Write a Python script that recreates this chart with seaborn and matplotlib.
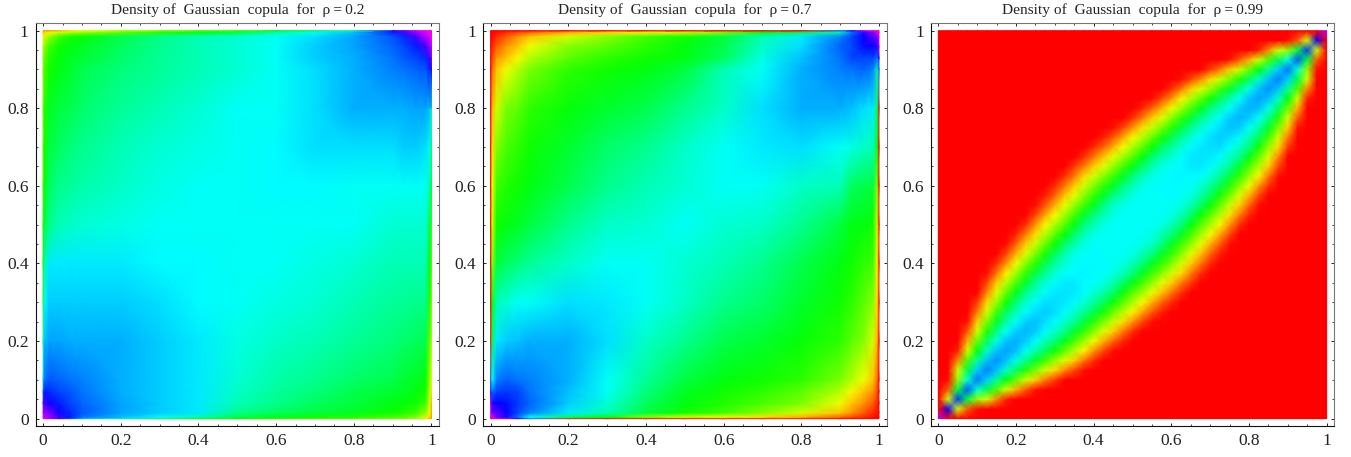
import numpy as np
import matplotlib
matplotlib.use("Agg")
import matplotlib.pyplot as plt
import seaborn as sns

# hue (0 red, .33 green, .5 cyan, .67 blue)
edge_coords = [0, .004, .015, .04, .07, .1, .2, .3, .4, .5, .6, .7, .8, .9, .93, .96, .985, .996, 1]
band_coords = [i / 40 for i in range(41)]

# one row per y, x going from 0 up to y
rho02_rows = [
    [.82],
    [.82, .8],
    [.8, .78, .76],
    [.72, .72, .69, .66],
    [.62, .66, .65, .63, .62],
    [.55, .6, .62, .61, .6, .59],
    [.45, .55, .57, .57, .56, .56, .56],
    [.4, .5, .54, .54, .54, .54, .54, .53],
    [.35, .45, .52, .52, .52, .52, .52, .51, .51],
    [.33, .38, .43, .46, .47, .48, .49, .5, .5, .5],
    [.3, .35, .4, .43, .44, .45, .47, .49, .5, .5, .51],
    [.28, .33, .38, .4, .42, .43, .46, .48, .49, .5, .51, .53],
    [.27, .32, .36, .38, .39, .41, .44, .46, .48, .5, .5, .53, .56],
    [.25, .29, .33, .35, .37, .39, .42, .44, .46, .48, .5, .53, .56, .59],
    [.25, .28, .32, .34, .36, .37, .41, .44, .46, .48, .5, .54, .56, .6, .62],
    [.22, .25, .3, .33, .35, .36, .4, .43, .46, .48, .5, .54, .57, .61, .63, .66],
    [.18, .2, .24, .3, .33, .34, .39, .43, .46, .48, .5, .53, .57, .62, .65, .72, .8],
    [.12, .15, .18, .2, .22, .24, .28, .32, .35, .38, .45, .5, .55, .66, .72, .78, .82, .85],
    [.1, .1, .1, .12, .15, .18, .22, .25, .28, .3, .35, .4, .45, .7, .75, .8, .85, .88, .9],
]

rho07_rows = [
    [.95],
    [.93, .83],
    [.85, .75, .74],
    [.8, .7, .68, .67],
    [.7, .6, .63, .64, .63],
    [.6, .5, .59, .61, .6, .59],
    [.02, .4, .52, .54, .55, .56, .56],
    [0, .35, .46, .48, .5, .5, .53, .52],
    [0, .25, .38, .4, .42, .44, .47, .5, .5],
    [0, .2, .33, .35, .36, .38, .43, .47, .48, .5],
    [0, .18, .3, .32, .33, .35, .39, .43, .46, .48, .5],
    [0, .15, .25, .29, .31, .33, .37, .41, .43, .47, .5, .52],
    [0, .12, .2, .26, .28, .31, .34, .37, .39, .43, .47, .53, .56],
    [0, .07, .13, .18, .22, .26, .31, .33, .35, .38, .46, .5, .56, .59],
    [0, .05, .1, .13, .17, .22, .28, .31, .33, .35, .4, .49, .55, .6, .63],
    [0, .03, .06, .1, .13, .18, .25, .28, .31, .35, .39, .47, .53, .61, .63, .67],
    [0, .015, .03, .06, .1, .13, .2, .25, .3, .33, .38, .46, .52, .59, .63, .68, .74],
    [0, .005, .015, .03, .05, .07, .12, .15, .18, .2, .25, .35, .4, .45, .6, .7, .75, .83],
    [0, 0, 0, 0, 0, 0, 0, 0, 0, 0, 0, 0, 0, .6, .7, .8, .85, .93, .95],
]

# one row per y, going out from the diagonal (x = y, then x one step less, ...), red after that
rho99_rows = [
    [.8],
    [.68],
    [.64, .2],
    [.62, .38, .06],
    [.6, .48, .24, .01],
    [.59, .54, .39, .2],
    [.58, .55, .44, .29, .09],
    [.57, .55, .47, .35, .2, .02],
    [.56, .55, .49, .4, .27, .12],
    [.555, .54, .5, .43, .32, .2, .06],
    [.55, .54, .5, .45, .365, .26, .14, .015],
    [.54, .53, .51, .46, .4, .3, .2, .085],
    [.53, .53, .51, .47, .42, .33, .24, .145, .04],
    [.525, .52, .51, .47, .43, .355, .275, .195, .09],
    [.52, .52, .51, .48, .435, .37, .29, .22, .14, .05],
    [.515, .51, .505, .48, .44, .38, .305, .235, .165, .08, .01],
    [.51, .51, .5, .48, .445, .39, .315, .25, .18, .1, .035],
    [.505, .51, .5, .49, .45, .4, .325, .26, .195, .12, .05],
    [.5, .5, .5, .49, .455, .41, .335, .27, .21, .14, .07, .01],
    [.5, .5, .5, .49, .46, .41, .34, .28, .22, .15, .085, .025],
    [.5, .5, .5, .49, .46, .42, .35, .285, .23, .17, .1, .035],
    [.5, .5, .5, .49, .46, .42, .36, .295, .235, .175, .11, .05],
    [.5, .5, .5, .49, .47, .425, .36, .3, .245, .185, .12, .06, .01],
    [.505, .5, .5, .49, .46, .425, .365, .305, .25, .19, .13, .07, .02],
    [.51, .51, .5, .49, .46, .42, .36, .305, .255, .2, .14, .08, .03],
    [.515, .51, .5, .49, .46, .42, .36, .3, .25, .2, .145, .085, .035],
    [.52, .51, .5, .49, .455, .41, .35, .295, .245, .19, .14, .085, .04],
    [.525, .52, .505, .48, .45, .41, .34, .285, .235, .185, .13, .08, .035],
    [.53, .52, .51, .48, .445, .4, .335, .28, .23, .175, .12, .07, .03],
    [.54, .53, .51, .48, .44, .39, .325, .27, .22, .17, .11, .06, .02],
    [.55, .53, .51, .47, .435, .38, .315, .26, .21, .15, .1, .05, .01],
    [.555, .54, .51, .47, .43, .37, .305, .25, .195, .14, .085, .035],
    [.56, .54, .5, .46, .42, .355, .29, .235, .18, .12, .07, .025],
    [.57, .55, .5, .45, .4, .33, .275, .22, .165, .1, .05, .01],
    [.58, .55, .49, .43, .365, .3, .24, .195, .14, .08, .035],
    [.59, .55, .47, .4, .32, .26, .2, .145, .09, .05, .01],
    [.6, .54, .44, .35, .27, .2, .14, .085, .04],
    [.62, .48, .39, .29, .2, .12, .06, .015],
    [.64, .38, .24, .2, .09, .02],
    [.68, .2, .06, .01],
    [.8],
]

titles = ["Density of  Gaussian  copula  for  \u03c1\u2009=\u20090.2",
          "Density of  Gaussian  copula  for  \u03c1\u2009=\u20090.7",
          "Density of  Gaussian  copula  for  \u03c1\u2009=\u20090.99"]
major_ticks = [0, .2, .4, .6, .8, 1]
minor_ticks = [.05, .1, .15, .25, .3, .35, .45, .5, .55, .65, .7, .75, .85, .9, .95]
tick_labels = ["0", "0.2", "0.4", "0.6", "0.8", "1"]


def grid_from_rows(rows):
    n = len(rows)
    grid = np.zeros((n, n))
    for i, row in enumerate(rows):
        grid[i, :len(row)] = row
        grid[:len(row), i] = row
    return grid


def grid_from_diagonal(rows):
    n = len(rows)
    grid = np.zeros((n, n))
    for i, row in enumerate(rows):
        for j, hue in enumerate(row):
            grid[i, i - j] = hue
            grid[i - j, i] = hue
    return grid


def draw_panel(ax, grid, coords, title):
    sns.heatmap(grid, ax=ax, cmap="hsv", vmin=0, vmax=1, cbar=False,
                xticklabels=False, yticklabels=False, shading="gouraud")

    # heatmap only knows cell numbers, so a scale puts them at the real positions
    idx = np.arange(-1, len(coords) + 1)
    pos = np.r_[coords[0] - 1, coords, coords[-1] + 1]
    to_pos = lambda v: np.interp(v, idx, pos)
    to_idx = lambda v: np.interp(v, pos, idx)
    ax.set_xscale("function", functions=(to_pos, to_idx))
    ax.set_yscale("function", functions=(to_pos, to_idx))
    ax.set_xlim(to_idx(-.0197), to_idx(1.0197))
    ax.set_ylim(to_idx(-.0197), to_idx(1.0197))

    for axis in (ax.xaxis, ax.yaxis):
        axis.set_ticks(to_idx(major_ticks), tick_labels)
        axis.set_ticks(to_idx(minor_ticks), minor=True)
        axis.set_tick_params(which="minor", labelleft=False, labelbottom=False)

    ax.tick_params(which="major", direction="in", length=2.4, width=.7, top=True, right=True,
                   color="#222222", labelsize=12.5, labelcolor="#222222", pad=5, rotation=0)
    ax.tick_params(which="minor", direction="in", length=1.2, width=.6, top=True, right=True, color="#222222")
    for side, spine in ax.spines.items():
        spine.set_visible(True)
        spine.set_linewidth(.8)
        spine.set_color("#111111" if side in ("left", "bottom") else "#777777")
    ax.set_title(title, fontsize=11.1, color="#222222", pad=6.5)


sns.set_theme(style="ticks")
plt.rcParams["font.family"] = ["Liberation Serif", "DejaVu Serif"]

fig = plt.figure(figsize=(13.51, 4.57), dpi=100)
panel_lefts = [35.5, 483, 930.7]
panel_grids = [grid_from_rows(rho02_rows), grid_from_rows(rho07_rows), grid_from_diagonal(rho99_rows)]
panel_coords = [edge_coords, edge_coords, band_coords]

for left, grid, coords, title in zip(panel_lefts, panel_grids, panel_coords, titles):
    ax = fig.add_axes([left / 1351, 1 - 426.3 / 457, 403.6 / 1351, 403.3 / 457])
    draw_panel(ax, grid, np.array(coords), title)

fig.savefig("out.png", dpi=100)
